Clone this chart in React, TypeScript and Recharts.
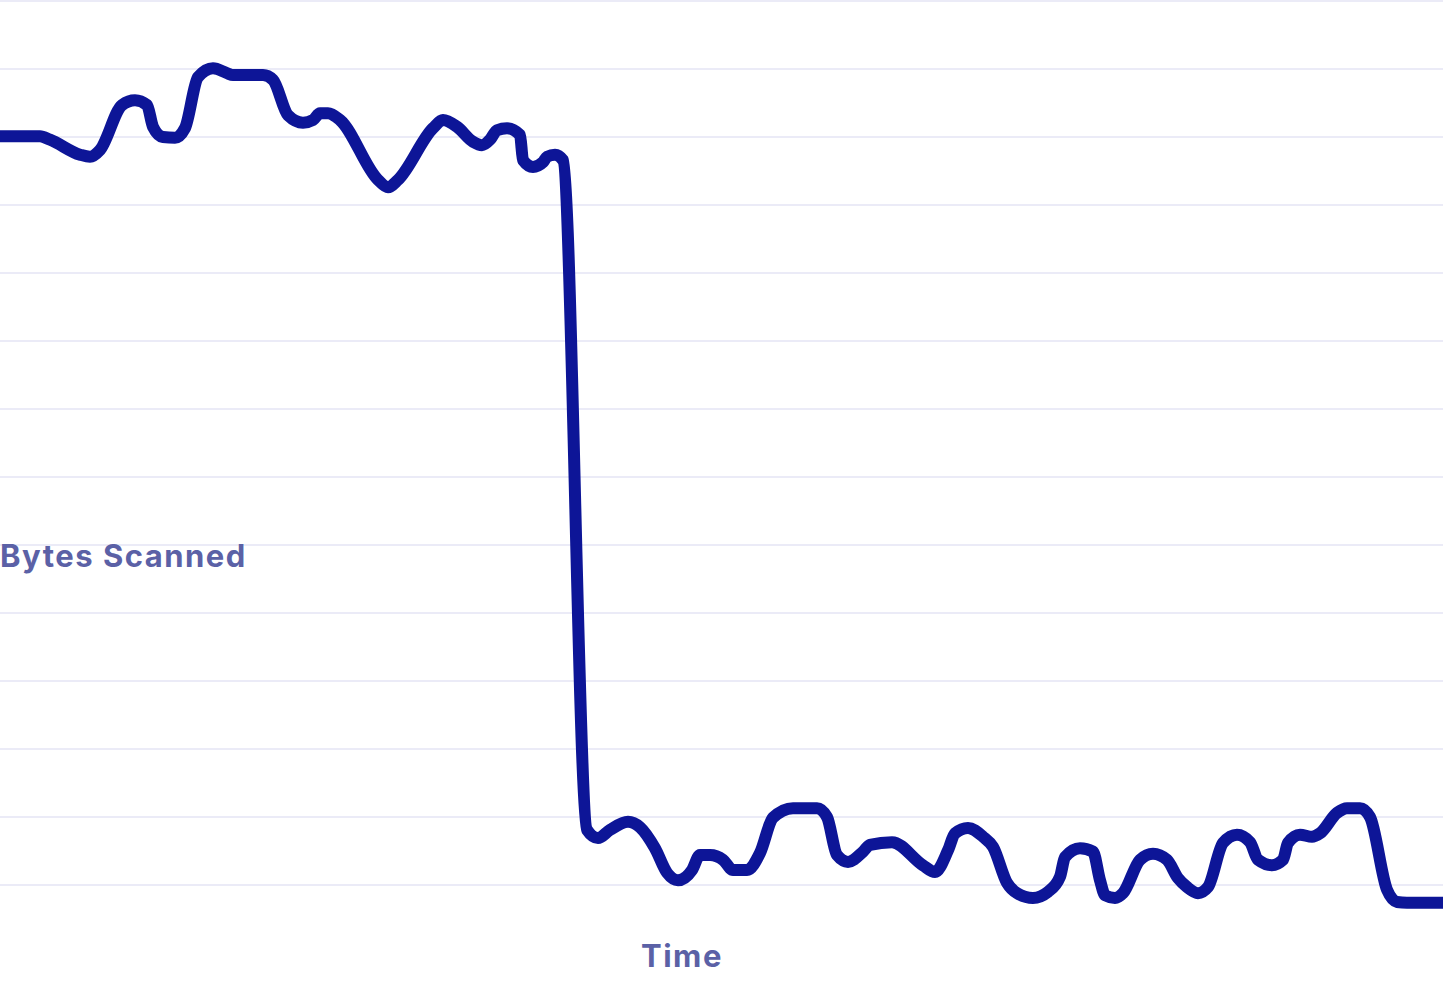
import React from "react";
import { LineChart, Line, XAxis, YAxis, CartesianGrid } from "recharts";

// time positions (arbitrary time units)
const times: number[] = [
  0, 40, 50, 80, 90, 100, 122, 135, 147, 153, 163, 175, 185, 198, 213, 227, 233, 263, 273,
  288, 303, 313, 320, 328, 340, 378, 388, 398, 433, 443, 457, 473, 482, 490, 497, 507, 520,
  523, 533, 543, 547, 555, 563,
  587, 598, 610, 628, 640, 655, 667, 678, 692, 700, 710, 723, 733, 747, 760, 773, 793, 817,
  827, 837, 848, 863, 870, 892, 923, 935, 948, 955, 968, 983, 993, 1007, 1017, 1033, 1048,
  1060, 1065, 1080, 1093, 1100, 1105, 1115, 1123, 1140, 1153, 1167, 1178, 1187, 1198, 1208,
  1223, 1237, 1250, 1258, 1272, 1283, 1288, 1300, 1312, 1320, 1337, 1347, 1360, 1370, 1387,
  1397, 1407, 1443,
];

// bytes scanned (arbitrary units)
const bytesScanned: number[] = [
  1201, 1201, 1196, 1174, 1171, 1181, 1247, 1254, 1247, 1215, 1200, 1199, 1213, 1288, 1301,
  1294, 1291, 1291, 1284, 1232, 1221, 1225, 1235, 1235, 1225, 1137, 1126, 1137, 1213, 1225,
  1215, 1193, 1188, 1196, 1210, 1213, 1203, 1166, 1156, 1163, 1171, 1174, 1166,
  181, 169, 181, 193, 185, 154, 118, 107, 122, 144, 144, 137, 122, 122, 147, 199, 213, 213,
  200, 144, 134, 149, 159, 163, 129, 119, 151, 176, 184, 171, 156, 103, 88, 81, 90,
  112, 141, 154, 149, 107, 85, 81, 88, 137, 146, 137, 110, 97, 88, 97,
  162, 174, 163, 137, 129, 137, 162, 174, 171, 176, 206, 213, 213, 200, 93,
  75, 74, 74,
];

const yTicks: number[] = [100, 200, 300, 400, 500, 600, 700, 800, 900, 1000, 1100, 1200, 1300, 1400];

const yLabel = "Bytes Scanned";
const xLabel = "Time";

const data = times.map((t, i) => ({ t, bytes: bytesScanned[i] }));

const labelStyle: React.CSSProperties = {
  fontFamily: "Inter, sans-serif",
  fontWeight: 700,
  fontSize: 31,
  letterSpacing: 1.5,
};

export default function App() {
  return (
    <div style={{ position: "absolute", left: 0, top: 0, width: 1443, height: 981, background: "#ffffff" }}>
      <LineChart
        width={1443}
        height={981}
        data={data}
        margin={{ top: 1, right: 0, bottom: 28, left: 0 }}
      >
        <CartesianGrid
          vertical={false}
          stroke="#e4e5f5"
          strokeWidth={1.5}
          horizontalValues={yTicks}
          syncWithTicks
        />
        <XAxis dataKey="t" type="number" domain={[0, 1443]} hide />
        <YAxis type="number" domain={[0, 1400]} ticks={yTicks} hide />
        <Line
          type="monotone"
          dataKey="bytes"
          stroke="#0d1597"
          strokeWidth={12}
          strokeLinejoin="round"
          dot={false}
          activeDot={false}
          isAnimationActive={false}
        />
      </LineChart>
      <svg
        width={1443}
        height={981}
        style={{ position: "absolute", left: 0, top: 0, pointerEvents: "none" }}
      >
        <text x={0} y={567} fill="#5b61a6" style={labelStyle}>
          {yLabel}
        </text>
        <text x={641} y={967} fill="#5b61a6" style={labelStyle}>
          {xLabel}
        </text>
      </svg>
    </div>
  );
}
